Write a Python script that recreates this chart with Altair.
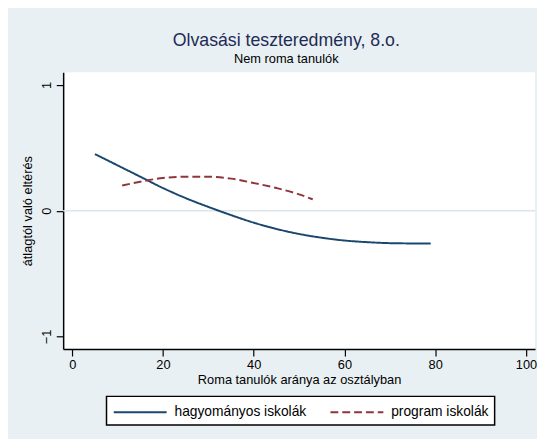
import altair as alt
import pandas as pd

# Data
blue_x = [5, 10, 15, 20, 25, 30, 35, 40, 45, 50, 55, 60, 65, 70, 75, 79]
blue_y = [0.45, 0.36, 0.27, 0.18, 0.10, 0.03, -0.035, -0.095, -0.145, -0.185, -0.215, -0.237, -0.25, -0.258, -0.26, -0.26]
red_x = [11, 15, 20, 25, 30, 35, 40, 45, 50, 53]
red_y = [0.20, 0.23, 0.26, 0.27, 0.27, 0.255, 0.22, 0.18, 0.13, 0.09]
series_names = ["hagyományos iskolák", "program iskolák"]
x_ticks = [0, 20, 40, 60, 80, 100]
y_ticks = [-1, 0, 1]

df = pd.concat([
    pd.DataFrame({"x": blue_x, "y": blue_y, "s": series_names[0]}),
    pd.DataFrame({"x": red_x, "y": red_y, "s": series_names[1]}),
])

FONT = "Liberation Sans"

x_scale = alt.Scale(domain=[-2, 102], nice=False, zero=False)
y_scale = alt.Scale(domain=[-1.1, 1.1], nice=False, zero=False)

legend = alt.Legend(
    title=None, orient="none", legendX=44, legendY=329,
    direction="horizontal", columns=2,
    symbolType="M-1,0H5.2", symbolSize=300,
    symbolStrokeWidth=2, labelFontSize=14,
    labelFont=FONT, labelColor="#000000",
    labelOffset=43, columnPadding=20,
    padding=6, strokeColor="#000000",
    fillColor="#ffffff", cornerRadius=0,
)

zero_rule = alt.Chart(pd.DataFrame({"y": [0]})).mark_rule(
    color="#dbe6eb", strokeWidth=1.5
).encode(y=alt.Y("y:Q", scale=y_scale))

lines = alt.Chart(df).mark_line(strokeWidth=2, interpolate="monotone").encode(
    x=alt.X("x:Q", scale=x_scale,
            axis=alt.Axis(values=x_ticks, title="Roma tanulók aránya az osztályban",
                          titlePadding=2)),
    y=alt.Y("y:Q", scale=y_scale,
            axis=alt.Axis(values=y_ticks, format="d", title="átlagtól való eltérés",
                          labelAngle=-90, labelAlign="center", labelBaseline="bottom",
                          titlePadding=6)),
    color=alt.Color("s:N", scale=alt.Scale(domain=series_names, range=["#1a476f", "#90353b"]),
                    legend=legend),
    strokeDash=alt.StrokeDash("s:N", scale=alt.Scale(domain=series_names, range=[[1, 0], [8, 4]]),
                              legend=legend),
)

chart = alt.layer(zero_rule, lines).properties(
    width=479,
    height=281,
    autosize=alt.AutoSizeParams(type="none"),
    padding={"left": 56, "top": 62, "right": 2, "bottom": 88},
    background="#e9f0f3",
    title=alt.TitleParams(
        text="Olvasási teszteredmény, 8.o.",
        subtitle="Nem roma tanulók",
        anchor="middle",
        dx=-13,
        offset=6,
        font=FONT,
        fontSize=18,
        fontWeight="normal",
        color="#1e2b55",
        subtitleFont=FONT,
        subtitleFontSize=13,
        subtitleColor="#000000",
        subtitlePadding=4,
    ),
).configure_view(
    fill="#ffffff", stroke=None
).configure_legend(
    strokeWidth=1.5
).configure_axis(
    grid=False,
    domainColor="#000000",
    domainWidth=1.5,
    tickColor="#000000",
    tickSize=7,
    tickWidth=1.2,
    labelFont=FONT,
    labelFontSize=13,
    labelColor="#000000",
    labelPadding=3,
    titleFont=FONT,
    titleFontSize=13,
    titleFontWeight="normal",
    titleColor="#000000",
)

chart.save("out.html", embed_options={"renderer": "svg", "actions": False})
